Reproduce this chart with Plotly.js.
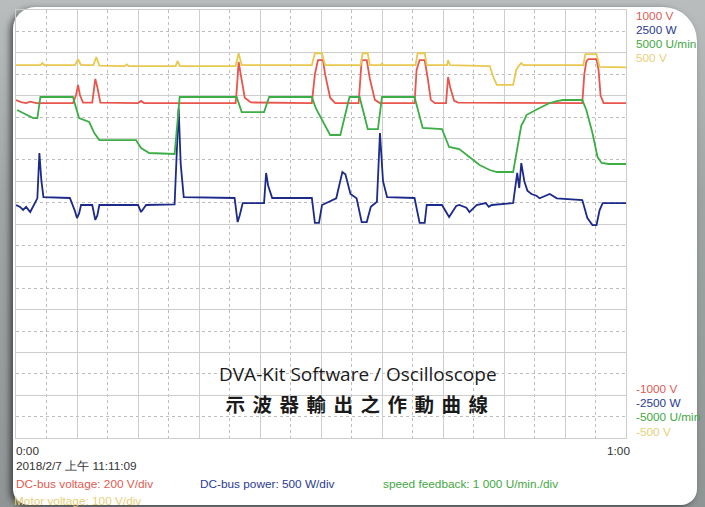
<!DOCTYPE html>
<html>
<head>
<meta charset="utf-8">
<script src="https://cdn.plot.ly/plotly-3.0.1.min.js"></script>
<style>
  html, body { margin:0; padding:0; width:705px; height:507px; overflow:hidden;
    background: linear-gradient(180deg, #b9bdbd 0%, #9fa4a4 40%, #8f9494 100%); }
  #panel { position:absolute; left:13px; top:7px; width:684px; height:498px; background:#ffffff;
    border-radius:22px 34px 16px 16px; box-shadow:-3px 2px 6px rgba(0,0,0,0.55); }
  #chart { position:absolute; left:0; top:0; width:705px; height:507px; }
  g.annotation[data-index="14"] text { letter-spacing: 7.5px; }
</style>
</head>
<body>
<div id="panel"></div>
<div id="chart"></div>
<script>
// DC-bus voltage (V), 200 V/div
const redT = [0,0.5,1.0,1.4,2.0,5.6,5.9,6.1,6.3,6.6,7.5,7.7,7.8,8.0,8.3,12.0,12.3,12.6,21.6,21.7,21.9,22.1,22.5,23.1,29.1,29.4,29.7,30.2,30.4,30.9,31.4,33.7,33.9,34.0,34.5,34.8,35.3,35.8,39.2,39.4,39.7,40.2,40.5,40.8,41.2,42.3,42.5,42.7,43.1,43.5,55.7,55.9,56.1,56.3,57.1,57.3,57.5,57.8,60];
const redV = [579,570,565,572,565,565,600,650,600,567,567,640,678,640,567,565,575,565,565,620,757,700,590,568,565,700,766,766,700,590,565,565,700,766,766,680,580,565,565,720,766,766,680,580,565,565,687,640,575,567,565,700,760,770,770,720,600,565,565];

// Motor voltage (V), 100 V/div
const yelT = [0,2.4,2.6,2.8,5.8,6.1,6.4,7.6,7.9,8.2,10.7,10.9,11.1,15.7,15.9,16.1,21.6,21.9,22.2,29.1,29.4,30.1,30.4,33.9,34.1,34.6,34.8,35.9,36.0,36.1,39.3,39.5,40.2,40.4,42.4,42.5,42.7,46.6,47.0,47.3,48.9,49.2,49.5,49.7,49.9,55.8,56.0,57.1,57.4,60];
const yelV = [371,371,376,371,371,385,371,371,390,370,369,373,369,369,381,369,369,399,371,371,399,399,371,371,399,399,371,371,376,371,371,399,399,371,371,383,371,369,340,325,325,360,371,376,371,371,397,397,367,366];

// Speed feedback (U/min), 1000 U/min/div
const grnT = [0.1,1.0,1.7,2.1,2.3,2.4,5.6,6.0,6.2,7.2,7.7,8.2,11.8,12.3,13.1,15.6,15.8,16.1,21.7,22.2,24.4,24.9,29.1,29.5,30.9,31.9,32.8,33.8,34.6,35.6,36.0,39.2,40.0,41.9,42.6,43.6,44.6,45.6,46.6,47.3,48.9,49.3,49.7,50.0,50.2,51.5,52.5,53.2,53.8,55.7,56.1,56.7,57.2,57.6,58.3,60];
const grnU = [2663,2550,2476,2476,2800,2967,2967,2593,2476,2383,2126,1962,1962,1775,1659,1635,2200,2967,2967,2616,2616,2967,2967,2700,2079,2079,2967,2967,2219,2219,2967,2967,2243,2219,1799,1750,1565,1378,1261,1215,1215,1800,2300,2430,2546,2710,2827,2873,2897,2897,2663,2126,1565,1425,1402,1402];

// DC-bus power (W), 500 W/div
const bluT = [0,0.4,0.7,1.0,1.4,1.9,2.1,2.3,2.5,2.7,5.3,5.8,6.0,6.2,6.4,7.5,7.8,8.0,8.2,12.0,12.3,12.8,15.6,15.8,16.0,16.2,16.5,21.5,21.8,22.0,22.3,24.4,24.6,24.8,25.2,29.1,29.4,29.8,30.1,31.5,32.1,32.4,32.9,33.5,34.0,34.5,34.9,35.5,35.8,36.1,36.5,39.2,39.7,40.2,40.4,41.9,42.6,43.3,43.6,44.3,44.6,45.3,46.2,46.5,46.8,48.9,49.1,49.3,49.5,49.7,50.0,50.3,50.7,51.2,51.5,52.5,53.2,54.1,55.7,56.2,56.7,57.1,57.4,57.7,60];
const bluW = [222,200,164,200,140,250,300,829,500,315,304,150,70,120,222,222,47,100,222,222,140,222,230,800,1350,700,315,304,23,100,245,245,596,450,304,304,12,12,222,300,607,580,350,300,23,23,200,260,1063,500,315,304,12,12,222,222,82,210,222,190,140,222,245,200,222,245,400,596,420,712,500,390,350,330,300,350,300,290,280,70,-12,-12,160,245,245];

const axisLabels = ['1000 V','2500 W','5000 U/min','500 V','-1000 V','-2500 W','-5000 U/min','-500 V'];
const timeLabels = ['0:00','1:00'];
const dateLabel = '2018/2/7 上午 11:11:09';
const scaleLabels = ['DC-bus voltage: 200 V/div','DC-bus power: 500 W/div','speed feedback: 1 000 U/min./div','Motor voltage: 100 V/div'];
const titleLines = ['DVA-Kit Software / Oscilloscope','示波器輸出之作動曲線'];

const cRed='#e8554c', cBlue='#1c2a8a', cGreen='#3cae45', cYel='#e8c84e';
const lblRed='#e05a52', lblBlue='#2a3b8f', lblGreen='#43a843', lblYel='#e8cf78';

const traces = [
  {x:yelT, y:yelV, yaxis:'y4', type:'scatter', mode:'lines', line:{color:cYel, width:1.8}, hoverinfo:'skip'},
  {x:redT, y:redV, yaxis:'y', type:'scatter', mode:'lines', line:{color:cRed, width:1.8}, hoverinfo:'skip'},
  {x:grnT, y:grnU, yaxis:'y3', type:'scatter', mode:'lines', line:{color:cGreen, width:1.8}, hoverinfo:'skip'},
  {x:bluT, y:bluW, yaxis:'y2', type:'scatter', mode:'lines', line:{color:cBlue, width:1.8}, hoverinfo:'skip'}
];

const F = 'Liberation Sans, Arial, sans-serif';
const S = 11.8;
function ann(text, x, y, color, size, xa, extra) {
  return Object.assign({text:text, x:x, y:y, xref:'paper', yref:'paper', showarrow:false,
    xanchor:xa||'left', yanchor:'middle', font:{family:F, size:size, color:color}}, extra||{});
}
const RX = 1.0125;
const annotations = [
  ann(axisLabels[0], RX, 0.986, lblRed, S),
  ann(axisLabels[1], RX, 0.953, lblBlue, S),
  ann(axisLabels[2], RX, 0.921, lblGreen, S),
  ann(axisLabels[3], RX, 0.888, lblYel, S),
  ann(axisLabels[4], RX, 0.1145, lblRed, S),
  ann(axisLabels[5], RX, 0.0818, lblBlue, S),
  ann(axisLabels[6], RX, 0.049, lblGreen, S),
  ann(axisLabels[7], RX, 0.014, lblYel, S),
  ann(timeLabels[0], -0.004, -0.0304, '#333333', S),
  ann(timeLabels[1], 1.0100, -0.0304, '#333333', S, 'right'),
  ann(dateLabel, -0.004, -0.0654, '#333333', S),
  ann(scaleLabels[0], -0.004, -0.1075, lblRed, S),
  ann(scaleLabels[1], 0.2980, -0.1075, lblBlue, S),
  ann(scaleLabels[2], 0.5980, -0.1075, lblGreen, S),
  ann(titleLines[1], 0.566, 0.0795, '#1a1a1a', 19.5, 'center', {font:{family:'Noto Sans CJK TC, sans-serif', size:19.5, color:'#1a1a1a', weight:700}}),
  ann(titleLines[0], 0.560, 0.1485, '#1a1a1a', 19, 'center', {font:{family:'Open Sans, sans-serif', size:19, color:'#1a1a1a'}}),
  ann(scaleLabels[3], -0.007, -0.147, lblYel, S)
];

const gridC = '#cdcdcd', minorC = '#bdbdbd';
const layout = {
  width:705, height:507,
  margin:{l:16, r:79, t:10, b:69},
  paper_bgcolor:'rgba(0,0,0,0)', plot_bgcolor:'rgba(0,0,0,0)',
  showlegend:false,
  xaxis:{range:[0,60], tick0:0, dtick:6, showticklabels:false, ticks:'', zeroline:false,
    showgrid:true, gridcolor:gridC, gridwidth:1,
    minor:{tick0:0, dtick:3, showgrid:true, gridcolor:minorC, griddash:'dot', gridwidth:1},
    showline:true, linecolor:gridC, mirror:true, fixedrange:true},
  yaxis:{range:[-1000,1000], tick0:-1000, dtick:200, showticklabels:false, ticks:'', zeroline:false,
    showgrid:true, gridcolor:gridC, gridwidth:1,
    minor:{tick0:-1000, dtick:100, showgrid:true, gridcolor:minorC, griddash:'dot', gridwidth:1},
    showline:true, linecolor:gridC, mirror:true, fixedrange:true},
  yaxis2:{range:[-2500,2500], overlaying:'y', visible:false, fixedrange:true},
  yaxis3:{range:[-5000,5000], overlaying:'y', visible:false, fixedrange:true},
  yaxis4:{range:[-500,500], overlaying:'y', visible:false, fixedrange:true},
  annotations:annotations
};
Plotly.newPlot('chart', traces, layout, {displayModeBar:false, staticPlot:true});
</script>
</body>
</html>
